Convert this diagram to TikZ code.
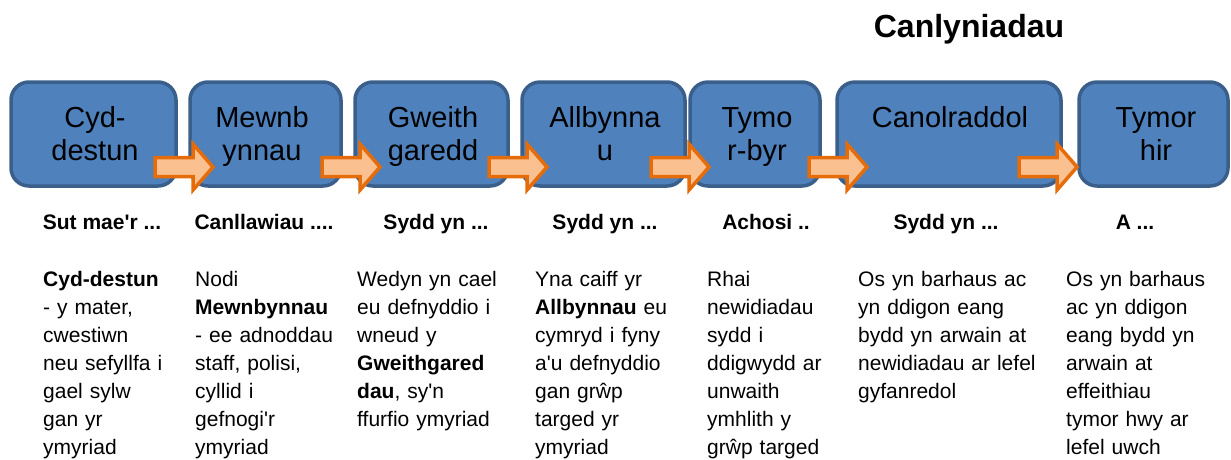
\documentclass[tikz,border=0pt]{standalone}
\usepackage{fontspec}
\setmainfont{Liberation Sans}[Ligatures=TeXOff]
\definecolor{boxfill}{HTML}{4F81BD}
\definecolor{boxline}{HTML}{3A5F8B}
\definecolor{arrline}{HTML}{E46C0A}
\definecolor{arrfill}{HTML}{FAC090}
\tikzset{
  stagebox/.style={draw=boxline, fill=boxfill, line width=3.5pt, rounded corners=18pt,
    rectangle, inner sep=0pt, minimum height=104pt},
  boxlabel/.style={anchor=base, inner sep=0pt, align=center,
    font=\fontsize{29}{33.5}\selectfont},
  headlabel/.style={anchor=base, inner sep=0pt, font=\bfseries\fontsize{21}{25}\selectfont},
  bodytext/.style={anchor=base west, inner sep=0pt, align=left, text width=190pt,
    font=\fontsize{21}{28}\selectfont},
  blockarrow/.pic={\path[draw=arrline, fill=arrfill, line width=3.5pt, line join=miter]
    (0,-9.5) -- (38,-9.5) -- (38,-23) -- (58,0) -- (38,23) -- (38,9.5) -- (0,9.5) -- cycle;}
}
\begin{document}
\begin{tikzpicture}[x=1pt,y=-1pt]
\path[use as bounding box] (0,0) rectangle (1231,459);

% title
\node[anchor=base, inner sep=0pt, font=\bfseries\fontsize{32}{38}\selectfont] (title) at (969,37) {Canlyniadau};

% stage boxes
\node[stagebox, minimum width=165pt] (b1) at (93.5,134) {};
\node[stagebox, minimum width=151pt] (b2) at (265.5,134) {};
\node[stagebox, minimum width=153pt] (b3) at (431.5,134) {};
\node[stagebox, minimum width=163pt] (b4) at (603.5,134) {};
\node[stagebox, minimum width=130pt] (b5) at (755,134) {};
\node[stagebox, minimum width=224pt] (b6) at (949,134) {};
\node[stagebox, minimum width=149pt] (b7) at (1153.5,134) {};

% block arrows
\pic (a1) at (155,167) {blockarrow};
\pic (a2) at (322,167) {blockarrow};
\pic (a3) at (489,167) {blockarrow};
\pic (a4) at (651,167) {blockarrow};
\pic (a5) at (809,167) {blockarrow};
\pic (a6) at (1019,167) {blockarrow};

% box labels
\node[boxlabel, text width=160pt] (t1) at (95,127) {Cyd-\\destun};
\node[boxlabel, text width=150pt] (t2) at (262,127) {Mewnb\\ynnau};
\node[boxlabel, text width=150pt] (t3) at (433,127) {Gweith\\garedd};
\node[boxlabel, text width=160pt] (t4) at (605,127) {Allbynna\\u};
\node[boxlabel, text width=130pt] (t5) at (757,127) {Tymo\\r-byr};
\node[boxlabel, text width=220pt] (t6) at (950,127) {Canolraddol};
\node[boxlabel, text width=150pt] (t7) at (1156,127) {Tymor\\hir};

% headers
\node[headlabel] (h1) at (102,229) {Sut mae'r ...};
\node[headlabel] (h2) at (264,229) {Canllawiau ....};
\node[headlabel] (h3) at (436,229) {Sydd yn ...};
\node[headlabel] (h4) at (605,229) {Sydd yn ...};
\node[headlabel] (h5) at (766,229) {Achosi ..};
\node[headlabel] (h6) at (946,229) {Sydd yn ...};
\node[headlabel] (h7) at (1135,229) {A ...};

% body texts
\node[bodytext] (d1) at (43,286) {\textbf{Cyd-destun}\\- y mater,\\cwestiwn\\neu sefyllfa i\\gael sylw\\gan yr\\ymyriad};
\node[bodytext] (d2) at (195,286) {Nodi\\\textbf{Mewnbynnau}\\- ee adnoddau\\staff, polisi,\\cyllid i\\gefnogi'r\\ymyriad};
\node[bodytext] (d3) at (357,286) {Wedyn yn cael\\eu defnyddio i\\wneud y\\\textbf{Gweithgared}\\\textbf{dau}, sy'n\\ffurfio ymyriad};
\node[bodytext] (d4) at (535,286) {Yna caiff yr\\\textbf{Allbynnau} eu\\cymryd i fyny\\a'u defnyddio\\gan grŵp\\targed yr\\ymyriad};
\node[bodytext] (d5) at (707,286) {Rhai\\newidiadau\\sydd i\\ddigwydd ar\\unwaith\\ymhlith y\\grŵp targed};
\node[bodytext] (d6) at (858,286) {Os yn barhaus ac\\yn ddigon eang\\bydd yn arwain at\\newidiadau ar lefel\\gyfanredol};
\node[bodytext] (d7) at (1066,286) {Os yn barhaus\\ac yn ddigon\\eang bydd yn\\arwain at\\effeithiau\\tymor hwy ar\\lefel uwch};
\end{tikzpicture}
\end{document}
